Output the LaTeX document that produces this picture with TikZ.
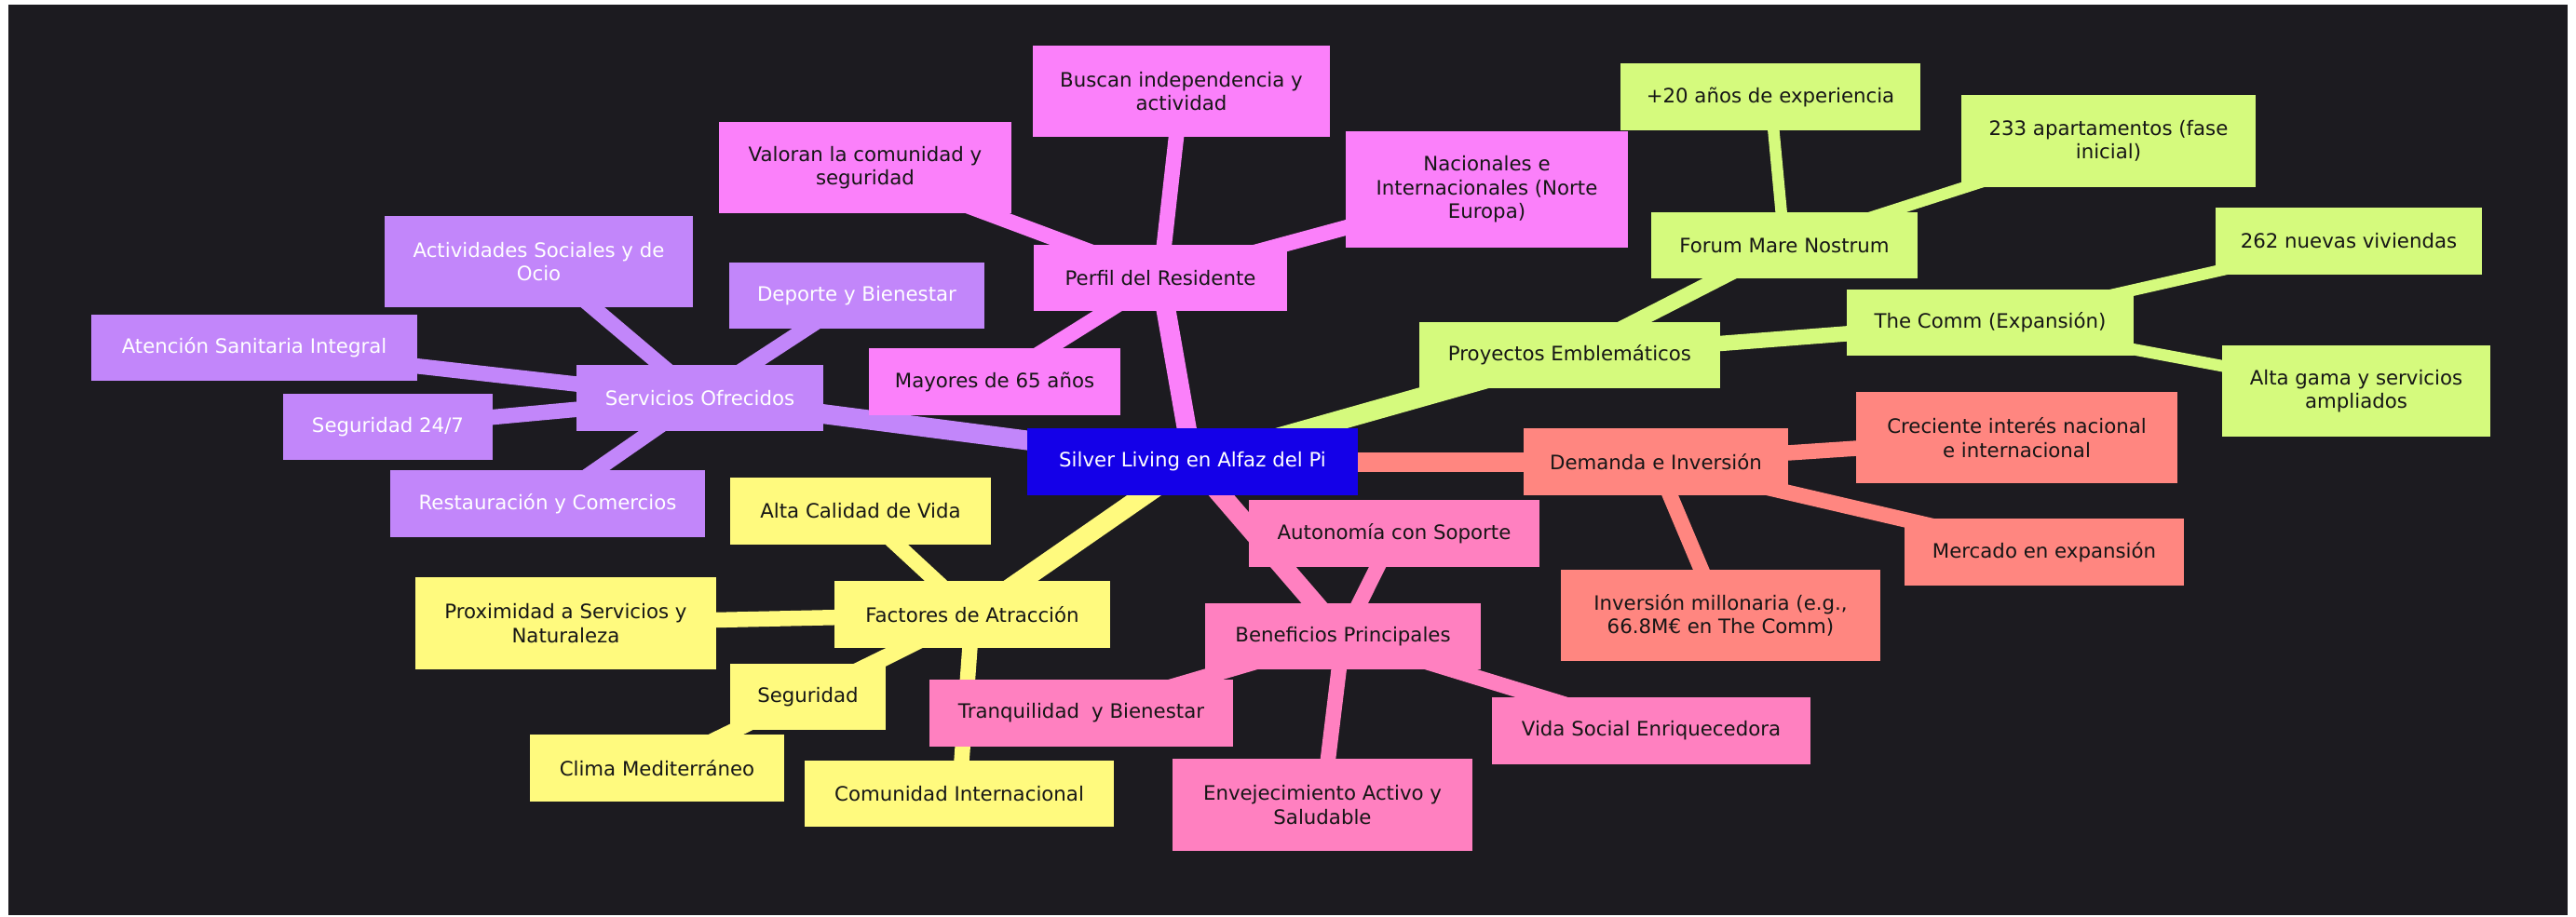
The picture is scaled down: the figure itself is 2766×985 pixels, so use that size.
\documentclass[tikz,border=0pt]{standalone}
\usepackage{fontspec}
\setmainfont{DejaVu Sans}
\usetikzlibrary{backgrounds}
\definecolor{bgc}{RGB}{28,27,32}
\definecolor{cRoot}{RGB}{20,0,232}
\definecolor{cPurple}{RGB}{194,134,250}
\definecolor{cMag}{RGB}{251,128,250}
\definecolor{cGreen}{RGB}{213,250,125}
\definecolor{cSalmon}{RGB}{255,134,128}
\definecolor{cPink}{RGB}{255,128,192}
\definecolor{cYellow}{RGB}{255,250,126}
\definecolor{cText}{RGB}{22,22,22}
\tikzset{
  mm/.style={rectangle, inner sep=0pt, align=center, font=\fontsize{21.3}{25.5}\selectfont},
  wh/.style 2 args={minimum width=#1pt, minimum height=#2pt},
  rootn/.style={mm, fill=cRoot, text=white},
  pur/.style={mm, fill=cPurple, text=white},
  mag/.style={mm, fill=cMag, text=cText},
  grn/.style={mm, fill=cGreen, text=cText},
  sal/.style={mm, fill=cSalmon, text=cText},
  pnk/.style={mm, fill=cPink, text=cText},
  yel/.style={mm, fill=cYellow, text=cText},
  ezero/.style={line width=21pt},
  eone/.style={line width=16.5pt},
  etwo/.style={line width=12.5pt},
}
\begin{document}
\begin{tikzpicture}[x=1pt, y=-1pt]
\begin{scope}[on background layer]
  \fill[white] (0,0) rectangle (2766,985);
  \fill[bgc] (9,5) rectangle (2757,983);
\end{scope}
\useasboundingbox (0,0) rectangle (2766,985);

% root
\node[rootn, wh={355}{72}] (root) at (1280.5,496) {Silver Living en Alfaz del Pi};
% purple
\node[pur, wh={265}{71}] (serv) at (751.5,427.5) {Servicios Ofrecidos};
\node[pur, wh={331}{98}] (activ) at (578.5,281) {Actividades Sociales y de\\Ocio};
\node[pur, wh={274}{71}] (deporte) at (920,317.5) {Deporte y Bienestar};
\node[pur, wh={350}{71}] (atenc) at (273,373.5) {Atención Sanitaria Integral};
\node[pur, wh={225}{71}] (seg247) at (416.5,458.5) {Seguridad 24/7};
\node[pur, wh={338}{72}] (rest) at (588,541) {Restauración y Comercios};
% magenta
\node[mag, wh={272}{71}] (perfil) at (1246,298.5) {Perfil del Residente};
\node[mag, wh={319}{98}] (buscan) at (1268.5,98) {Buscan independencia y\\actividad};
\node[mag, wh={314}{98}] (valoran) at (929,180) {Valoran la comunidad y\\seguridad};
\node[mag, wh={303}{125}] (nacion) at (1596.5,203.5) {Nacionales e\\Internacionales (Norte\\Europa)};
\node[mag, wh={270}{72}] (mayores) at (1068,410) {Mayores de 65 años};
% green
\node[grn, wh={323}{71}] (proy) at (1685.5,381.5) {Proyectos Emblemáticos};
\node[grn, wh={286}{71}] (forum) at (1916,263.5) {Forum Mare Nostrum};
\node[grn, wh={322}{72}] (veinte) at (1901,104) {+20 años de experiencia};
\node[grn, wh={316}{99}] (apart) at (2264,151.5) {233 apartamentos (fase\\inicial)};
\node[grn, wh={308}{71}] (comm) at (2137,346.5) {The Comm (Expansión)};
\node[grn, wh={286}{72}] (nuevas) at (2522,259) {262 nuevas viviendas};
\node[grn, wh={288}{98}] (altag) at (2530,420) {Alta gama y servicios\\ampliados};
% salmon
\node[sal, wh={284}{72}] (demanda) at (1778,496) {Demanda e Inversión};
\node[sal, wh={345}{98}] (crec) at (2165.5,470) {Creciente interés nacional\\e internacional};
\node[sal, wh={300}{72}] (merc) at (2195,593) {Mercado en expansión};
\node[sal, wh={343}{98}] (inver) at (1847.5,661) {Inversión millonaria (e.g.,\\66.8M€ en The Comm)};
% pink
\node[pnk, wh={296}{71}] (benef) at (1442,683.5) {Beneficios Principales};
\node[pnk, wh={312}{72}] (auton) at (1497,573) {Autonomía con Soporte};
\node[pnk, wh={342}{72}] (vida) at (1773,785) {Vida Social Enriquecedora};
\node[pnk, wh={322}{99}] (envej) at (1420,864.5) {Envejecimiento Activo y\\Saludable};
\node[pnk, wh={326}{72}] (tranq) at (1161,766) {Tranquilidad\hspace{0.3em} y Bienestar};
% yellow
\node[yel, wh={296}{72}] (fact) at (1044,660) {Factores de Atracción};
\node[yel, wh={280}{72}] (altac) at (924,549) {Alta Calidad de Vida};
\node[yel, wh={323}{99}] (prox) at (607.5,669.5) {Proximidad a Servicios y\\Naturaleza};
\node[yel, wh={167}{71}] (seg) at (867.5,748.5) {Seguridad};
\node[yel, wh={273}{72}] (clima) at (705.5,825) {Clima Mediterráneo};
\node[yel, wh={332}{71}] (comun) at (1030,852.5) {Comunidad Internacional};

\begin{scope}[on background layer]
  % purple
  \draw[cPurple, ezero] (root.center) -- (serv.center);
  \foreach \c in {activ,deporte,atenc,seg247,rest}
    \draw[cPurple, eone] (serv.center) -- (\c.center);
  % magenta
  \draw[cMag, ezero] (root.center) -- (perfil.center);
  \foreach \c in {buscan,valoran,nacion,mayores}
    \draw[cMag, eone] (perfil.center) -- (\c.center);
  % green
  \draw[cGreen, ezero] (root.center) -- (proy.center);
  \foreach \c in {forum,comm}
    \draw[cGreen, eone] (proy.center) -- (\c.center);
  \foreach \c in {veinte,apart}
    \draw[cGreen, etwo] (forum.center) -- (\c.center);
  \foreach \c in {nuevas,altag}
    \draw[cGreen, etwo] (comm.center) -- (\c.center);
  % salmon
  \draw[cSalmon, ezero] (root.center) -- (demanda.center);
  \foreach \c in {crec,merc,inver}
    \draw[cSalmon, eone] (demanda.center) -- (\c.center);
  % pink
  \draw[cPink, ezero] (root.center) -- (benef.center);
  \foreach \c in {auton,vida,envej,tranq}
    \draw[cPink, eone] (benef.center) -- (\c.center);
  % yellow
  \draw[cYellow, ezero] (root.center) -- (fact.center);
  \foreach \c in {altac,prox,seg,clima,comun}
    \draw[cYellow, eone] (fact.center) -- (\c.center);
\end{scope}
\end{tikzpicture}
\end{document}
